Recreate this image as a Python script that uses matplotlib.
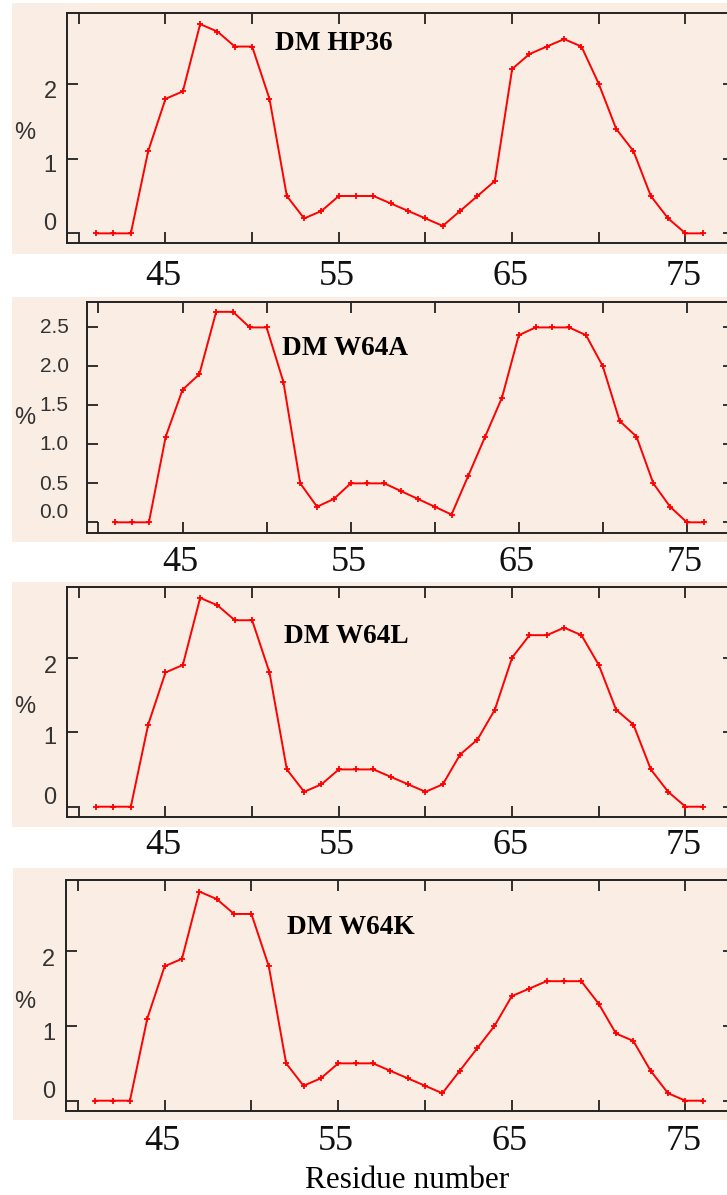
import numpy as np
import matplotlib
matplotlib.use("Agg")
import matplotlib.pyplot as plt
from matplotlib.patches import Rectangle

# residue numbers and per-residue percentages for each variant
residues = np.arange(41, 77)
hp36 = [0, 0, 0, 1.1, 1.8, 1.9, 2.8, 2.7, 2.5, 2.5, 1.8, 0.5, 0.2, 0.3, 0.5, 0.5, 0.5, 0.4,
        0.3, 0.2, 0.1, 0.3, 0.5, 0.7, 2.2, 2.4, 2.5, 2.6, 2.5, 2.0, 1.4, 1.1, 0.5, 0.2, 0, 0]
w64a = [0, 0, 0, 1.1, 1.7, 1.9, 2.7, 2.7, 2.5, 2.5, 1.8, 0.5, 0.2, 0.3, 0.5, 0.5, 0.5, 0.4,
        0.3, 0.2, 0.1, 0.6, 1.1, 1.6, 2.4, 2.5, 2.5, 2.5, 2.4, 2.0, 1.3, 1.1, 0.5, 0.2, 0, 0]
w64l = [0, 0, 0, 1.1, 1.8, 1.9, 2.8, 2.7, 2.5, 2.5, 1.8, 0.5, 0.2, 0.3, 0.5, 0.5, 0.5, 0.4,
        0.3, 0.2, 0.3, 0.7, 0.9, 1.3, 2.0, 2.3, 2.3, 2.4, 2.3, 1.9, 1.3, 1.1, 0.5, 0.2, 0, 0]
w64k = [0, 0, 0, 1.1, 1.8, 1.9, 2.8, 2.7, 2.5, 2.5, 1.8, 0.5, 0.2, 0.3, 0.5, 0.5, 0.5, 0.4,
        0.3, 0.2, 0.1, 0.4, 0.7, 1.0, 1.4, 1.5, 1.6, 1.6, 1.6, 1.3, 0.9, 0.8, 0.4, 0.1, 0, 0]

titles = ["DM HP36", "DM W64A", "DM W64L", "DM W64K"]
xticks = [40, 45, 50, 55, 60, 65, 70, 75]
xlabels = [45, 55, 65, 75]
yticks_int = [0, 1, 2]
yticks_half = [0.0, 0.5, 1.0, 1.5, 2.0, 2.5]

W, H = 727, 1195
BEIGE = "#faeee4"
fig = plt.figure(figsize=(W / 100, H / 100), dpi=100, facecolor="white")


def px_rect(x0, y0, x1, y1):
    return [x0 / W, 1 - y1 / H, (x1 - x0) / W, (y1 - y0) / H]


# panel layout in pixels: background box, axes box, title spot, label offsets
panels = [
    dict(bg=(12, 3, 727, 254), ax=(66.7, 12.7, 734, 243.3), ylim=(-0.133, 2.953),
         yt=yticks_int, ylab_off=[-9.5, 7.5, 8], ypad=10, yfs=17, title=(275, 49.5),
         pct=133, xlab_off=33),
    dict(bg=(12, 297, 727, 542), ax=(86.7, 301.7, 734, 532.7), ylim=(-0.133, 2.83),
         yt=yticks_half, ylab_off=[-9.7, 1, 0, 0, 0, 0], ypad=18, yfs=15, title=(282, 355),
         pct=418, xlab_off=30),
    dict(bg=(12, 582, 727, 827), ax=(66.7, 586.7, 734, 816.7), ylim=(-0.134, 2.95),
         yt=yticks_int, ylab_off=[-9, 6, 9], ypad=10, yfs=17, title=(283.5, 643.5),
         pct=707, xlab_off=29),
    dict(bg=(13, 868, 727, 1120), ax=(65.7, 880, 734, 1111), ylim=(-0.138, 2.955),
         yt=yticks_int, ylab_off=[-9, 8, 9], ypad=10.5, yfs=17, title=(287, 933.5),
         pct=1002, xlab_off=30),
]

for p, title, vals in zip(panels, titles, [hp36, w64a, w64l, w64k]):
    x0, y0, x1, y1 = p["bg"]
    fig.add_artist(Rectangle((x0 / W, 1 - y1 / H), (x1 - x0) / W, (y1 - y0) / H,
                             transform=fig.transFigure, facecolor=BEIGE, edgecolor="none",
                             zorder=0))
    ax = fig.add_axes(px_rect(*p["ax"]))
    ax.set_facecolor("none")
    ax.plot(residues, vals, color="#ff0000", lw=1.4, marker="+", ms=5, mew=1.3)
    ax.set_xlim(39.3, 77.8)
    ax.set_ylim(*p["ylim"])
    ax.set_xticks(xticks)
    ax.set_yticks(p["yt"])
    ax.tick_params(direction="in", length=8, width=1.3, color="#222222",
                   top=True, right=True, labelleft=False, labelbottom=False)
    for s in ax.spines.values():
        s.set_linewidth(1.4)
        s.set_color("#222222")

    # y tick labels, nudged the way the original plot software set them
    for v, dy in zip(p["yt"], p["ylab_off"]):
        lab = f"{v:.1f}" if p["yt"] is yticks_half else f"{v:d}"
        ax.annotate(lab, xy=(0, v), xycoords=("axes fraction", "data"),
                    xytext=(-p["ypad"], -dy), textcoords="offset pixels",
                    ha="right", va="center", fontsize=p["yfs"], color="#333333",
                    family="Liberation Sans", annotation_clip=False)

    # residue labels under the frame
    for v in xlabels:
        ax.annotate(str(v), xy=(v, 0), xycoords=("data", "axes fraction"),
                    xytext=(-2, -p["xlab_off"]), textcoords="offset pixels",
                    ha="center", va="center", fontsize=26, color="#111111",
                    family="Liberation Serif", annotation_clip=False)

    fig.text(p["title"][0] / W, 1 - p["title"][1] / H, title, ha="left", va="baseline",
             fontsize=19.7, fontweight="bold", family="Liberation Serif", color="black")
    fig.text(25 / W, 1 - p["pct"] / H, "%", ha="center", va="center", fontsize=17,
             color="#333333", family="Liberation Sans")

fig.text(407.5 / W, 1 - 1188 / H, "Residue number", ha="center", va="baseline",
         fontsize=22.5, family="Liberation Serif", color="black")

fig.savefig("out.png", dpi=100)
